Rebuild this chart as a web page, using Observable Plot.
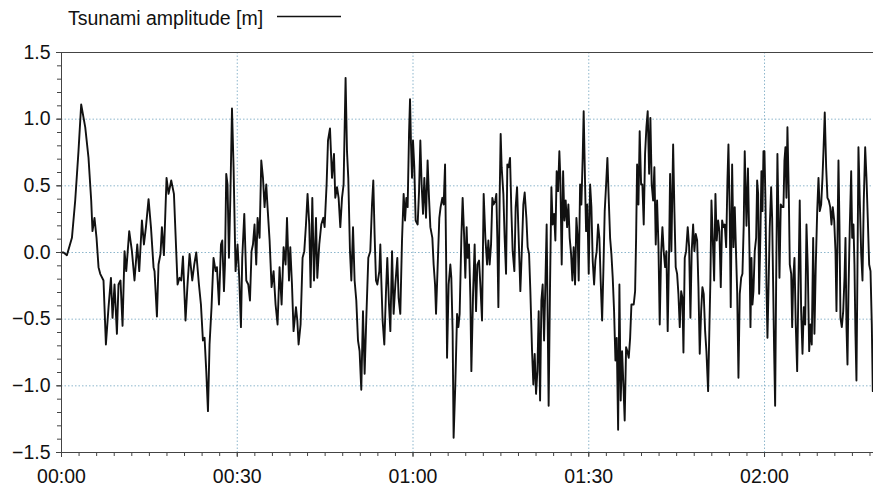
<!DOCTYPE html>
<html><head><meta charset="utf-8">
<script src="https://cdn.jsdelivr.net/npm/d3@7"></script>
<script src="https://cdn.jsdelivr.net/npm/@observablehq/plot@0.6"></script>
<style>
body{margin:0;background:#fff;font-family:"Liberation Sans",Arial,sans-serif;}
#legend{display:block;}
#chart svg{display:block;}
</style></head><body>
<svg id="legend" width="873" height="40"></svg>
<div id="chart"></div>
<script>
// [minutes since start, tsunami amplitude in m]
const seg1 = [[0,0],[0.34,0],[0.92,-0.02],[1.78,0.11],[2.34,0.39],[2.90,0.76],[3.36,1.11],[4.05,0.94],[4.61,0.71],[5.07,0.39],
[5.29,0.16],[5.63,0.26],[5.98,0.11],[6.32,-0.11],[6.61,-0.16],[7.17,-0.21],[7.58,-0.69],[8.03,-0.41],[8.44,-0.19],[8.71,-0.49],
[9.05,-0.24],[9.46,-0.61],[9.73,-0.24],[10.07,-0.21],[10.42,-0.55],[10.76,0.01],[11.05,-0.14],[11.56,0.16],[12.02,0.01],[12.46,-0.21],
[12.93,0.06],[13.27,-0.14],[13.73,0.24],[14.07,0.06],[14.41,0.19],[14.86,0.40],[15.27,0.19],[15.71,-0.11],[15.88,-0.14],[16.29,-0.48],
[16.56,-0.09],[16.90,-0.01],[17.14,0.19],[17.48,-0.02],[17.93,0.56],[18.27,0.44],[18.73,0.54],[19.19,0.44]];
const seg2 = [[19.81,-0.24],[20.15,-0.19],[20.44,-0.21],[20.73,-0.03],[21.17,-0.51],[21.51,-0.24],[21.86,-0.01],[22.32,-0.21],[22.66,-0.09],[23.00,0.0],
[23.46,-0.24],[23.80,-0.39],[24.14,-0.66],[24.42,-0.64],[24.71,-0.89],[25.00,-1.19],[25.27,-0.69],[25.61,-0.41],[25.95,-0.04],[26.30,-0.14],
[26.53,-0.11],[26.88,-0.39],[27.22,0.06],[27.44,0.09],[27.73,-0.29],[27.90,-0.09],[28.12,0.59],[28.34,0.51],[28.58,-0.04],[28.81,0.39],
[29.10,1.08],[29.37,0.64],[29.71,-0.14],[30.05,0.06],[30.34,-0.19],[30.63,-0.56],[30.85,-0.04],[31.20,0.29],[31.54,-0.21],[31.88,-0.24],
[32.17,-0.36],[32.44,0.01],[32.68,0.06],[32.95,0.21],[33.24,-0.09],[33.47,0.26],[33.81,0.11],[34.10,0.69],[34.39,0.56],[34.66,0.34],
[34.95,0.51],[35.17,0.34],[35.52,0.09],[35.86,-0.26],[36.20,-0.14],[36.54,-0.39],[36.88,-0.54],[37.22,-0.11],[37.57,-0.39],[37.91,0.04],
[38.25,-0.09],[38.49,0.26],[38.83,-0.21]];
const seg3 = [[39.05,0.04],[39.34,-0.24],[39.61,-0.59],[40.02,-0.41],[40.25,-0.51],[40.47,-0.69],[40.81,-0.54],[41.15,-0.04],[41.44,0.01],[41.73,0.21],
[42.00,0.44],[42.29,0.21],[42.52,-0.26],[42.81,0.41],[43.10,-0.21],[43.44,0.26],[43.66,-0.19],[44.00,0.06],[44.34,0.21],[44.69,0.26],
[44.91,0.19],[45.25,0.51],[45.49,0.84],[45.83,0.93],[46.17,0.56],[46.51,0.74],[46.73,0.41],[47.03,0.49],[47.30,0.41],[47.59,0.19],
[47.88,0.41],[48.15,0.51],[48.49,1.31],[48.73,0.76],[48.95,0.56],[49.24,0.01],[49.47,-0.21],[49.76,0.19],[50.03,-0.21],[50.32,-0.36],
[50.61,-0.66],[50.88,-0.74],[51.17,-1.03],[51.46,-0.44],[51.74,-0.91],[52.03,-0.49],[52.37,-0.04],[52.71,0.01],[53.00,0.36],[53.22,0.54],
[53.44,0.14],[53.68,-0.21],[53.91,-0.24],[54.25,-0.14],[54.42,0.06],[54.59,-0.21],[54.81,-0.51],[55.10,-0.69],[55.39,-0.29],[55.61,-0.04],
[55.90,-0.39],[56.13,-0.59],[56.42,0.01],[56.69,-0.46],[56.98,-0.24],[57.32,-0.04],[57.54,-0.34],[57.83,-0.46]];
const seg4 = [[58.12,0.09],[58.40,0.44],[58.64,0.24],[58.86,0.41],[59.08,0.34],[59.32,0.89],[59.49,1.15],[59.66,0.81],[59.83,0.56],[60.00,0.84],
[60.22,0.64],[60.45,0.24],[60.79,0.21],[61.03,0.46],[61.25,0.84],[61.47,0.51],[61.71,0.29],[61.93,0.56],[62.22,0.26],[62.49,0.69],
[62.73,0.41],[62.96,0.19],[63.30,0.11],[63.52,-0.09],[63.76,-0.24],[63.93,-0.46],[64.20,-0.11],[64.49,0.26],[64.71,0.34],[65.00,0.41],
[65.23,0.36],[65.47,0.66],[65.64,0.01],[65.81,-0.79],[66.08,-0.24],[66.37,-0.09],[66.54,-0.19],[66.76,-0.59],[66.93,-1.39],[67.22,-0.99],
[67.52,-0.46],[67.74,-0.56],[67.96,-0.46],[68.25,0.11],[68.47,0.41],[68.71,0.14],[68.93,-0.19],[69.15,0.19],[69.32,-0.04],[69.56,0.06],
[69.79,-0.34],[69.96,-0.89],[70.25,-0.31],[70.52,0.06],[70.76,-0.44],[70.98,-0.09],[71.27,-0.06],[71.49,-0.24],[71.78,-0.51],[72.06,0.44],
[72.35,0.11],[72.64,-0.09],[72.86,0.09],[73.08,-0.09],[73.32,0.06],[73.54,0.41],[73.76,0.36],[74.05,0.39],[74.22,0.44],[74.39,0.11],
[74.57,-0.41],[74.79,0.41],[74.96,0.89],[75.13,0.64],[75.42,0.44],[75.64,0.11],[75.88,-0.16],[76.10,0.66],[76.32,0.64],[76.56,0.71],
[76.79,0.31],[77.01,0.01],[77.30,-0.14],[77.52,0.34],[77.76,0.49]];
const seg5 = [[78.17,-0.08],[78.32,-0.29],[78.61,0.06],[78.83,0.36],[79.06,0.45],[79.35,0.26],[79.57,0.04],[79.81,-0.01],[80.03,-0.29],[80.32,-0.74],
[80.54,-0.99],[80.77,-0.76],[81.00,-1.06],[81.23,-0.89],[81.45,-0.44],[81.69,-1.11],[81.91,-0.36],[82.13,-0.24],[82.37,-0.66],[82.59,-0.24],
[82.81,0.21],[82.98,-0.49],[83.15,-1.15],[83.39,-0.24],[83.62,0.49],[83.84,0.21],[84.08,0.29],[84.30,0.09],[84.52,0.61],[84.76,0.46],
[84.98,0.76],[85.15,0.56],[85.38,-0.09],[85.62,0.61],[85.84,0.24],[86.06,0.39],[86.30,0.19],[86.52,0.36],[86.74,0.11],[86.98,-0.01],
[87.20,-0.21],[87.42,0.04],[87.66,-0.24],[87.89,0.26],[88.11,0.11],[88.28,-0.21],[88.52,0.51],[88.74,0.36],[88.96,0.71],[89.13,1.06],
[89.37,0.51],[89.54,0.16],[89.76,0.36],[89.99,-0.16],[90.23,0.51],[90.45,0.34],[90.67,-0.06],[90.91,-0.24],[91.13,-0.06],[91.35,0.01],
[91.59,0.21],[91.81,0.11],[92.03,-0.21],[92.28,-0.51],[92.49,-0.14],[92.72,0.31],[92.96,0.51],[93.18,0.71],[93.40,0.41],[93.64,0.11],
[93.86,-0.01],[94.09,-0.19],[94.32,-0.44],[94.55,-0.81],[94.77,-0.64],[95.01,-1.33],[95.23,-0.24],[95.45,-1.11],[95.69,-0.74],[95.91,-0.99],
[96.13,-1.26],[96.37,-0.71],[96.59,-0.74],[96.82,-0.79],[97.06,-0.64],[97.28,-0.39]];
const seg6 = [[97.67,-0.39],[97.91,-0.29],[98.08,0.11],[98.25,0.66],[98.48,0.36],[98.69,0.91],[98.93,0.51],[99.15,0.51],[99.38,0.21],[99.61,0.74],
[99.84,0.94],[100.06,1.06],[100.30,0.59],[100.52,1.01],[100.74,0.51],[100.98,0.39],[101.20,0.64],[101.43,0.06],[101.66,0.39],[101.89,0.06],
[102.11,-0.54],[102.35,-0.01],[102.57,0.19],[102.79,0.01],[103.03,-0.11],[103.25,0.01],[103.47,-0.59],[103.71,0.01],[103.88,0.59],[104.10,0.01],
[104.40,0.81],[104.62,0.31],[104.84,-0.11],[105.08,-0.16],[105.30,-0.31],[105.53,-0.56],[105.77,-0.29],[105.99,-0.34],[106.16,-0.75],[106.38,-0.04],
[106.62,0.01],[106.89,0.19],[107.13,0.04],[107.35,-0.49],[107.57,0.01],[107.81,0.21],[108.03,0.01],[108.26,0.14],[108.50,0.09],[108.72,-0.26],
[108.94,-0.76],[109.18,-0.44],[109.40,-0.26],[109.62,-0.31],[109.86,-0.59],[110.08,-0.74],[110.37,-1.04],[110.59,-0.56],[110.76,-0.21],[110.94,0.39],
[111.16,0.11],[111.40,-0.21],[111.62,0.44],[111.84,0.09],[112.08,0.24],[112.30,0.16],[112.53,-0.26],[112.76,0.24],[112.99,0.19],[113.21,0.21],
[113.45,0.04],[113.67,0.54],[113.84,0.81],[114.06,0.29],[114.23,-0.41],[114.47,0.66],[114.70,0.04],[114.92,0.34],[115.16,-0.04],[115.33,-0.29],
[115.55,-0.94],[115.77,-0.31],[116.01,-0.19],[116.23,-0.16],[116.45,0.21],[116.62,0.76]];
const seg7 = [[116.92,0.2],[117.17,0.63],[117.43,0.01],[117.60,-0.56],[117.77,-0.04],[117.94,-0.39],[118.11,-0.29],[118.33,0.01],[118.57,0.11],[118.74,0.54],
[118.91,0.44],[119.08,-0.31],[119.30,0.14],[119.47,0.61],[119.65,0.31],[119.82,0.76],[119.99,0.76],[120.16,0.39],[120.33,-0.24],[120.50,-0.64],
[120.67,-0.29],[120.89,0.19],[121.13,0.49],[121.30,0.26],[121.47,-0.24],[121.64,-0.74],[121.81,-1.15],[121.98,-0.24],[122.20,0.74],[122.38,0.26],
[122.55,-0.19],[122.77,0.36],[123.01,0.34],[123.23,0.34],[123.40,0.69],[123.57,0.79],[123.74,0.41],[123.91,0.94],[124.14,0.44],[124.31,-0.09],
[124.55,-0.16],[124.72,-0.56],[124.89,-0.21],[125.11,-0.04],[125.33,-0.54],[125.57,-0.89],[125.79,-0.24],[126.01,0.39],[126.25,-0.44],[126.48,-0.76],
[126.70,-0.41],[126.94,-0.54],[127.16,0.21],[127.38,-0.11],[127.62,-0.74],[127.84,-0.54],[128.06,-0.69],[128.30,0.11],[128.52,-0.61],[128.75,-0.09],
[128.99,0.31],[129.21,0.56],[129.43,0.31],[129.67,0.36],[129.89,0.56],[130.06,0.76],[130.28,1.05],[130.52,0.64],[130.74,0.41],[130.97,0.39],
[131.21,0.34],[131.43,0.21],[131.65,0.34],[131.89,0.24],[132.11,0.01],[132.28,-0.44],[132.45,0.09],[132.62,0.69],[132.79,0.21],[132.96,-0.49],
[133.19,-0.56],[133.43,-0.44],[133.65,-0.19],[133.82,0.11],[133.99,-0.56],[134.16,-0.84],[134.33,-0.29],[134.55,0.19],[134.79,0.61],[134.96,0.11],
[135.18,0.21],[135.35,-0.09],[135.52,-0.61],[135.69,-0.96],[135.86,-0.14],[136.03,0.79],[136.26,0.39],[136.50,-0.01],[136.72,-0.21],[136.94,0.39],
[137.18,0.79],[137.40,0.56],[137.62,0.26],[137.86,-0.09],[138.09,-0.14],[138.31,-0.54],[138.48,-1.04]];

const xTicks = [0, 30, 60, 90, 120];
const xTickLabels = ["00:00", "00:30", "01:00", "01:30", "02:00"];
const yTicks = [-1.5, -1, -0.5, 0, 0.5, 1, 1.5];
const yTickLabels = ["\u22121.5", "\u22121.0", "\u22120.5", "0.0", "0.5", "1.0", "1.5"];
const seriesName = "Tsunami amplitude [m]";

const samples = [...seg1, ...seg2, ...seg3, ...seg4, ...seg5, ...seg6, ...seg7].map(([t, v]) => ({t, v}));
const minorX = d3.range(0, 139, 3);
const minorY = d3.range(-15, 16).map(i => i / 10);
const gridCol = "#8db6cc";

// legend
const lg = d3.select("#legend");
lg.append("text").attr("x", 68).attr("y", 25).attr("font-size", 19.5)
  .attr("font-family", "Liberation Sans, Arial, sans-serif").attr("fill", "#111").text(seriesName);
lg.append("line").attr("x1", 277).attr("x2", 341).attr("y1", 16.5).attr("y2", 16.5)
  .attr("stroke", "#111").attr("stroke-width", 1.6);

const chart = Plot.plot({
  width: 873,
  height: 448,
  marginLeft: 61,
  marginRight: 0,
  marginTop: 12,
  marginBottom: 36,
  style: {fontFamily: "Liberation Sans, Arial, sans-serif", fontSize: "19.5px", color: "#111", background: "#fff", overflow: "visible"},
  x: {domain: [0, 138.6]},
  y: {domain: [-1.5, 1.5]},
  marks: [
    Plot.gridY([-1, -0.5, 0, 0.5, 1], {stroke: gridCol, strokeOpacity: 1, strokeDasharray: "1.5,2"}),
    Plot.gridX([30, 60, 90, 120], {stroke: gridCol, strokeOpacity: 1, strokeDasharray: "1.5,2"}),
    Plot.axisX(minorX, {tickSize: 4, fill: "none", label: null, stroke: "#444"}),
    Plot.axisX(xTicks, {tickSize: 5, tickPadding: 12, label: null, stroke: "#444",
      tickFormat: d => xTickLabels[xTicks.indexOf(d)]}),
    Plot.axisY(minorY, {tickSize: 4, fill: "none", label: null, stroke: "#444"}),
    Plot.axisY(yTicks, {tickSize: 5, tickPadding: 6, label: null, stroke: "#444",
      tickFormat: d => yTickLabels[yTicks.indexOf(d)]}),
    Plot.line(samples, {x: "t", y: "v", stroke: "#111", strokeWidth: 1.9}),
    Plot.frame({stroke: "#444"})
  ]
});
document.getElementById("chart").appendChild(chart);
</script>
</body></html>
